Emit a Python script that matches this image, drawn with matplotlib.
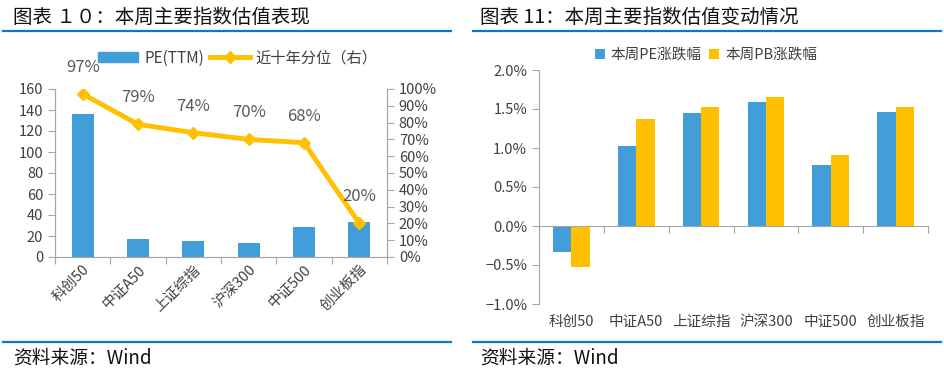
import numpy as np
import matplotlib.pyplot as plt
from matplotlib.lines import Line2D
from matplotlib.patches import Patch
from matplotlib.transforms import blended_transform_factory

plt.rcParams['font.family'] = ['Noto Sans CJK SC', 'DejaVu Sans']

categories = ['科创50', '中证A50', '上证综指', '沪深300', '中证500', '创业板指']
pe_ttm = [136, 17.5, 15, 13, 29, 33]
pct_10y = [97, 79, 74, 70, 68, 20]
pe_chg = [-0.33, 1.03, 1.45, 1.59, 0.78, 1.46]
pb_chg = [-0.53, 1.37, 1.52, 1.66, 0.91, 1.53]

BLUE = '#419ED9'
YELLOW = '#FFC000'
LINE = '#0A7AC7'
SPINE = '#A6A6A6'
TXT = '#404040'

W, H = 944, 374
fig = plt.figure(figsize=(W / 100, H / 100), dpi=100)


def fx(px):
    return px / W


def fy(py):
    return 1 - py / H


# titles, rules and source
fig.text(fx(13), fy(17), '图表 １０：本周主要指数估值表现', fontsize=14, va='center', color='#111111')
fig.text(fx(480), fy(17), '图表 11：本周主要指数估值变动情况', fontsize=14, va='center', color='#111111')
fig.text(fx(13), fy(358), '资料来源：Wind', fontsize=13.5, va='center', color='#111111')
fig.text(fx(480), fy(358), '资料来源：Wind', fontsize=13.5, va='center', color='#111111')
for x0, x1 in [(3, 451), (473, 941)]:
    for yy in (31, 342):
        fig.add_artist(Line2D([fx(x0), fx(x1)], [fy(yy), fy(yy)], color=LINE, lw=1.6))

x = np.arange(len(categories))

# ---- left chart ----
ax = fig.add_axes([fx(55), fy(257), fx(387 - 55), fy(89) - fy(257)])
ax.bar(x, pe_ttm, width=0.4, color=BLUE, zorder=2)
ax.set_xlim(-0.5, len(categories) - 0.5)
ax.set_ylim(0, 160)
ax.set_yticks(np.arange(0, 161, 20))
ax.set_xticks(np.arange(-0.5, len(categories), 1.0))
ax.set_xticklabels([])
ax.set_xticks(x, minor=True)
ax.set_xticklabels(categories, minor=True, rotation=45, ha='right', rotation_mode='anchor')
ax.tick_params(axis='x', which='minor', length=0, labelsize=10.5, labelcolor=TXT, pad=4)
ax.tick_params(axis='x', which='major', length=5, color=SPINE)
ax.tick_params(axis='y', length=5, color=SPINE, labelsize=10.5, labelcolor=TXT)
ax.spines['top'].set_visible(False)
for s in ('left', 'right', 'bottom'):
    ax.spines[s].set_color(SPINE)

ax2 = ax.twinx()
ax2.plot(x, pct_10y, color=YELLOW, lw=3.5, marker='D', markersize=6, zorder=3)
for xi, v in zip(x, pct_10y):
    ax2.annotate(f'{v}%', (xi, v), xytext=(0, 13), textcoords='offset points',
                 ha='center', va='bottom', fontsize=12, color='#595959')
ax2.set_ylim(0, 100)
ax2.set_yticks(np.arange(0, 101, 10))
ax2.set_yticklabels([f'{v}%' for v in range(0, 101, 10)])
ax2.tick_params(axis='y', length=5, color=SPINE, labelsize=10.5, labelcolor=TXT)
ax2.spines['top'].set_visible(False)
for s in ('left', 'right', 'bottom'):
    ax2.spines[s].set_color(SPINE)

fig.legend(handles=[Patch(color=BLUE, label='PE(TTM)'),
                    Line2D([], [], color=YELLOW, lw=3.5, marker='D', markersize=6, label='近十年分位（右）')],
           loc='center', bbox_to_anchor=(fx(238), fy(58)), ncol=2, frameon=False,
           fontsize=11, handlelength=2.6, handleheight=0.6, columnspacing=0.4,
           handletextpad=0.4, labelcolor=TXT)

# ---- right chart ----
bx = fig.add_axes([fx(539), fy(304), fx(928 - 539), fy(70) - fy(304)])
bw = 0.283
bx.bar(x - bw / 2, pe_chg, width=bw, color=BLUE, zorder=2, label='本周PE涨跌幅')
bx.bar(x + bw / 2, pb_chg, width=bw, color=YELLOW, zorder=2, label='本周PB涨跌幅')
bx.set_xlim(-0.5, len(categories) - 0.5)
bx.set_ylim(-1.0, 2.0)
bx.set_yticks(np.arange(-1.0, 2.01, 0.5))
bx.set_yticklabels([f'{v:.1f}%'.replace('-', '−') for v in np.arange(-1.0, 2.01, 0.5)])
bx.spines['bottom'].set_position(('data', 0))
bx.set_xticks(np.arange(-0.5, len(categories), 1.0))
bx.set_xticklabels([])
bx.tick_params(axis='x', length=5, color=SPINE)
bx.tick_params(axis='y', length=5, color=SPINE, labelsize=10.5, labelcolor=TXT)
for s in ('top', 'right'):
    bx.spines[s].set_visible(False)
for s in ('left', 'bottom'):
    bx.spines[s].set_color(SPINE)
tr = blended_transform_factory(bx.transData, bx.transAxes)
for xi, c in zip(x, categories):
    bx.text(xi, -0.075, c, transform=tr, ha='center', va='center', fontsize=10.5, color=TXT)

bx.legend(loc='center', bbox_to_anchor=(fx(706), fy(55)), bbox_transform=fig.transFigure,
          ncol=2, frameon=False, fontsize=10.5, handlelength=0.7, handleheight=0.7,
          columnspacing=0.5, handletextpad=0.4, labelcolor=TXT)

fig.savefig('out.png', dpi=100)
